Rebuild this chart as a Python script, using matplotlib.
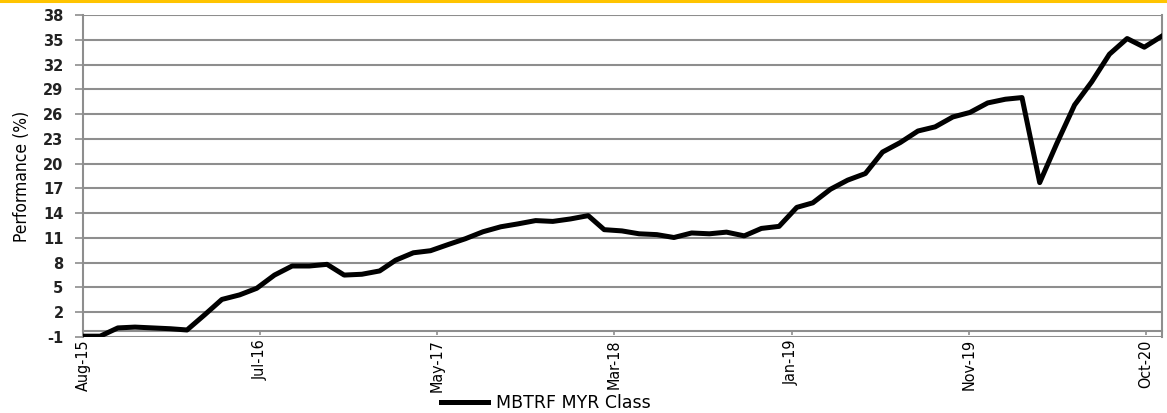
import numpy as np
import pandas as pd
import matplotlib
matplotlib.use('Agg')
import matplotlib.pyplot as plt
from matplotlib.lines import Line2D

# month-end NAV performance, Aug-15 .. Oct-20
start_date = '2015-08-31'
n_months = 63
performance = [-0.9, -0.9, 0.1, 0.2, 0.1, 0.0, -0.15, 1.7, 3.55, 4.1,
               4.9, 6.5, 7.6, 7.6, 7.8, 6.5, 6.6, 7.0, 8.3, 9.2,
               9.45, 10.2, 10.9, 11.75, 12.35, 12.7, 13.1, 13.0, 13.3, 13.7,
               12.0, 11.85, 11.5, 11.4, 11.05, 11.6, 11.5, 11.7, 11.25, 12.15,
               12.4, 14.7, 15.25, 16.9, 18.0, 18.8, 21.4, 22.55, 23.95, 24.45,
               25.65, 26.2, 27.35, 27.8, 28.0, 17.7, 22.45, 27.1, 29.9, 33.25,
               35.15, 34.1, 35.45]
series_name = 'MBTRF MYR Class'
x_tick_labels = ['Aug-15', 'Jul-16', 'May-17', 'Mar-18', 'Jan-19', 'Nov-19', 'Oct-20']
y_ticks = [-1, 2, 5, 8, 11, 14, 17, 20, 23, 26, 29, 32, 35, 38]

dates = pd.date_range(start_date, periods=n_months, freq='ME')
# excel date axis: a major tick every 310 days
tick_dates = [dates[0] + pd.Timedelta(days=310 * k) for k in range(len(x_tick_labels))]

narrow = ['DejaVu Sans']
grid_c = '#8e8e8e'

fig = plt.figure(figsize=(11.67, 4.13), dpi=100)
ax = fig.add_axes([83 / 1167, 1 - 337 / 413, 1079 / 1167, 322 / 413])

line, = ax.plot(dates, performance, color='black', lw=3.6, solid_joinstyle='round',
                label=series_name, zorder=3)

ax.set_xlim(dates[0], dates[-1])
ax.set_ylim(-1, 38)
ax.set_yticks(y_ticks)
ax.set_yticklabels([str(v) for v in y_ticks])
ax.tick_params(axis='y', length=6, width=1.2, color=grid_c, pad=8)
ax.yaxis.grid(True, color=grid_c, lw=1.5)
ax.set_axisbelow(True)

ax.set_xticks(tick_dates)
ax.set_xticklabels(x_tick_labels)
ax.tick_params(axis='x', length=3, width=1.2, color=grid_c, pad=3, labelrotation=90)

for s in ['left', 'right', 'top']:
    ax.spines[s].set_color(grid_c)
    ax.spines[s].set_linewidth(1.5)
ax.spines['top'].set_visible(False)
ax.spines['bottom'].set_color(grid_c)
ax.spines['bottom'].set_linewidth(1.5)
ax.spines['bottom'].set_position(('data', -0.25))

# fonts set last so nothing resets them
for t in ax.get_yticklabels():
    t.set_fontsize(10.5)
    t.set_fontweight('bold')
    t.set_color('#222222')
for t in ax.get_xticklabels():
    t.set_fontsize(11.5)
    t.set_family(narrow)
    t.set_fontstretch('condensed')

ax.set_ylabel('Performance (%)', fontsize=12.5, family=narrow, fontstretch='condensed',
              labelpad=9)

leg = fig.legend(handles=[line], loc='center', bbox_to_anchor=(0.468, 0.024),
                 frameon=False, fontsize=12.5, handlelength=2.7, handletextpad=0.45)

# yellow rule along the top
fig.add_artist(Line2D([0, 1], [0.998, 0.998], transform=fig.transFigure,
                      color='#ffc400', lw=2.2))

fig.savefig('out.png', dpi=100)
